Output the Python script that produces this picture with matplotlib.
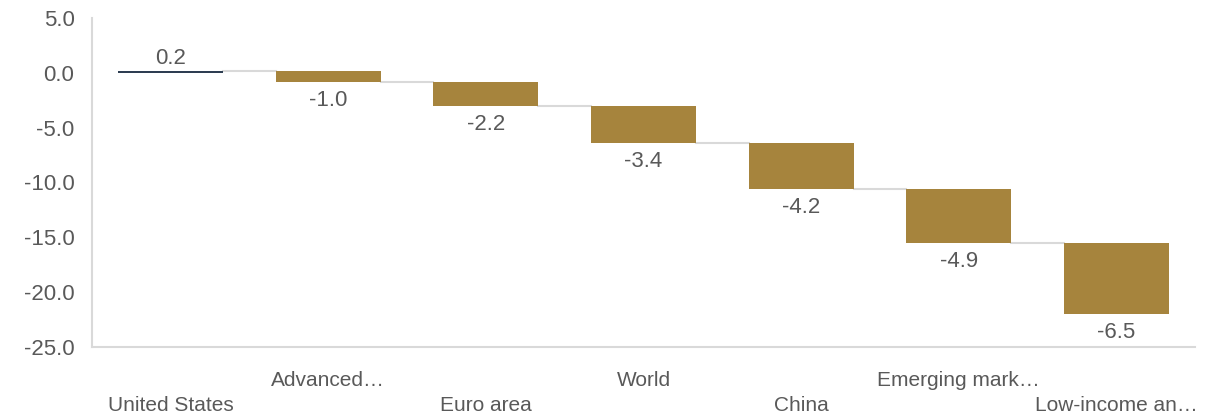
import matplotlib.pyplot as plt
import numpy as np

plt.rcParams['font.family'] = ['Liberation Sans', 'DejaVu Sans']
plt.rcParams['axes.unicode_minus'] = False

categories = ["United States", "Advanced\u2026", "Euro area", "World", "China",
              "Emerging mark\u2026", "Low-income an\u2026"]
values = [0.2, -1.0, -2.2, -3.4, -4.2, -4.9, -6.5]
yticks = [5.0, 0.0, -5.0, -10.0, -15.0, -20.0, -25.0]

gold = "#A6843D"
navy = "#2E3E52"
grey_line = "#D9D9D9"
text_col = "#595959"

vals = np.array(values)
ends = np.cumsum(vals)
starts = ends - vals
x = np.arange(len(categories))
w = 0.666

fig = plt.figure(figsize=(12.16, 4.18), dpi=100)
ax = fig.add_axes([0.0755, 0.170, 0.9075, 0.787])

colors = [navy] + [gold] * (len(vals) - 1)
ax.bar(x, vals, bottom=starts, width=w, color=colors, zorder=3)

# connectors between bars
for i in range(len(vals) - 1):
    ax.plot([x[i] + w / 2, x[i + 1] - w / 2], [ends[i], ends[i]],
            color=grey_line, lw=1.5, zorder=2)

# value labels
for i, v in enumerate(vals):
    if v >= 0:
        ax.annotate(f"{v:.1f}", (x[i], ends[i]), xytext=(0, 1),
                    textcoords="offset points", ha="center", va="bottom",
                    fontsize=16, color=text_col)
    else:
        ax.annotate(f"{v:.1f}", (x[i], ends[i]), xytext=(0, -6),
                    textcoords="offset points", ha="center", va="top",
                    fontsize=16, color=text_col)

ax.set_xlim(-0.5, len(categories) - 0.5)
ax.set_ylim(-25, 5)
ax.set_yticks(yticks)
ax.set_yticklabels([f"{t:.1f}" for t in yticks])
ax.set_xticks(x)
ax.set_xticklabels(categories)
ax.tick_params(axis="both", length=0, labelcolor=text_col)
ax.tick_params(axis="y", pad=12.5, labelsize=16)
ax.tick_params(axis="x", labelsize=15)
for i, tick in enumerate(ax.xaxis.get_major_ticks()):
    tick.set_pad(35.5 if i % 2 == 0 else 17.5)

for s in ["top", "right"]:
    ax.spines[s].set_visible(False)
for s in ["left", "bottom"]:
    ax.spines[s].set_color(grey_line)
    ax.spines[s].set_linewidth(1.5)

fig.savefig("out.png", dpi=100)
